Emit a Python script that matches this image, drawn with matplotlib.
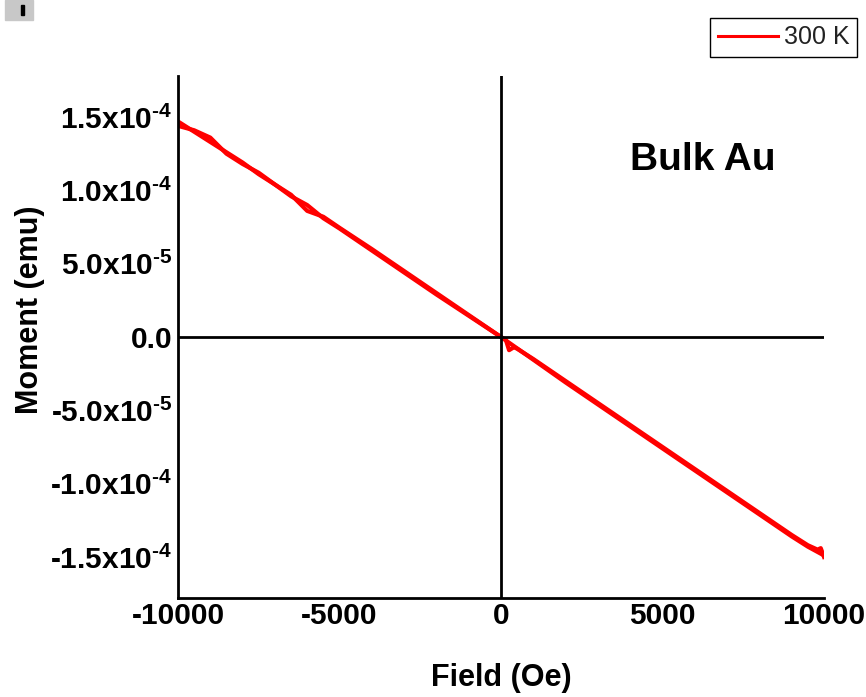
import matplotlib
matplotlib.use("Agg")
import matplotlib.pyplot as plt
from matplotlib.patches import Rectangle

plt.rcParams['font.family'] = ['Liberation Sans', 'DejaVu Sans']
plt.rcParams['mathtext.fontset'] = 'custom'
plt.rcParams['mathtext.rm'] = 'Liberation Sans:bold'
plt.rcParams['mathtext.it'] = 'Liberation Sans:bold'
plt.rcParams['mathtext.bf'] = 'Liberation Sans:bold'

# field sweep, Oe
field_up = [-10000, -9500, -9000, -8500, -8000, -7500, -7000, -6500, -6000, -5500,
            -5000, -4000, -3000, -2000, -1000, 0, 150, 250, 400, 500, 1000, 2000,
            3000, 4000, 5000, 6000, 7000, 8000, 9000, 9500, 9800, 9900, 10000]
moment_up = [1.47e-4, 1.40e-4, 1.33e-4, 1.26e-4, 1.19e-4, 1.11e-4, 1.04e-4, 0.96e-4,
             0.90e-4, 0.81e-4, 0.74e-4, 0.59e-4, 0.44e-4, 0.29e-4, 0.145e-4, 0.0,
             -0.02e-4, -0.09e-4, -0.07e-4, -0.08e-4, -0.15e-4, -0.30e-4, -0.45e-4,
             -0.60e-4, -0.75e-4, -0.90e-4, -1.05e-4, -1.20e-4, -1.35e-4, -1.42e-4,
             -1.45e-4, -1.44e-4, -1.50e-4]

field_down = [10000, 9500, 9000, 8000, 7000, 6000, 5000, 4000, 3000, 2000, 1000, 0,
              -1000, -2000, -3000, -4000, -5000, -5500, -6000, -6500, -7000, -7500,
              -8000, -8500, -9000, -9500, -10000]
moment_down = [-1.49e-4, -1.43e-4, -1.36e-4, -1.21e-4, -1.06e-4, -0.91e-4, -0.76e-4,
               -0.61e-4, -0.46e-4, -0.31e-4, -0.155e-4, 0.0, 0.15e-4, 0.30e-4,
               0.45e-4, 0.60e-4, 0.745e-4, 0.82e-4, 0.86e-4, 0.97e-4, 1.04e-4,
               1.12e-4, 1.18e-4, 1.25e-4, 1.36e-4, 1.41e-4, 1.44e-4]

x_ticks = [-10000, -5000, 0, 5000, 10000]
y_ticks = [-1.5e-4, -1.0e-4, -5.0e-5, 0.0, 5.0e-5, 1.0e-4, 1.5e-4]
y_tick_labels = ['-1.5x10$^{\\text{-}4}$', '-1.0x10$^{\\text{-}4}$',
                 '-5.0x10$^{\\text{-}5}$', '0.0', '5.0x10$^{\\text{-}5}$',
                 '1.0x10$^{\\text{-}4}$', '1.5x10$^{\\text{-}4}$']

fig = plt.figure(figsize=(8.66, 6.97), dpi=100)
ax = fig.add_axes([178 / 866, (697 - 598) / 697, 646 / 866, 522 / 697])

ax.plot(field_up, moment_up, color='red', lw=3.0, label='300 K')
ax.plot(field_down, moment_down, color='red', lw=3.0)

ax.axhline(0, color='black', lw=2)
ax.axvline(0, color='black', lw=2)

ax.set_xlim(-10000, 10000)
ax.set_ylim(-1.78e-4, 1.78e-4)
ax.set_xticks(x_ticks)
ax.set_xticklabels([str(t) for t in x_ticks])
ax.set_yticks(y_ticks)
ax.set_yticklabels(y_tick_labels)
ax.tick_params(length=0, labelsize=21.5)
ax.tick_params(axis='y', pad=4)
ax.tick_params(axis='x', pad=3)
for lbl in ax.get_xticklabels() + ax.get_yticklabels():
    lbl.set_fontweight('bold')

ax.spines['top'].set_visible(False)
ax.spines['right'].set_visible(False)
ax.spines['left'].set_linewidth(2)
ax.spines['bottom'].set_linewidth(2)

ax.set_xlabel('Field (Oe)', fontsize=22, fontweight='bold')
ax.set_ylabel('Moment (emu)', fontsize=22, fontweight='bold')
ax.xaxis.set_label_coords(0.5, -0.125)
ax.yaxis.set_label_coords(-0.206, 0.552)

ax.text(0.70, 0.84, 'Bulk Au', transform=ax.transAxes, fontsize=28,
        fontweight='bold', ha='left', va='center')

leg = fig.legend(loc='upper right', bbox_to_anchor=(857 / 866, 1 - 18 / 697),
                 borderaxespad=0, fancybox=False, fontsize=18, handlelength=2.4,
                 handletextpad=0.25, borderpad=0.3, framealpha=1)
leg.get_frame().set_edgecolor('black')
leg.get_frame().set_linewidth(1)
leg.get_lines()[0].set_linewidth(2.2)
for t in leg.get_texts():
    t.set_color('#222222')

# small grey marker in the corner
fig.patches.append(Rectangle((5 / 866, 1 - 20 / 697), 28 / 866, 20 / 697,
                             transform=fig.transFigure, color='#c8c8c8'))
fig.patches.append(Rectangle((21 / 866, 1 - 15 / 697), 3 / 866, 10 / 697,
                             transform=fig.transFigure, color='black'))

fig.savefig('out.png', dpi=100)
